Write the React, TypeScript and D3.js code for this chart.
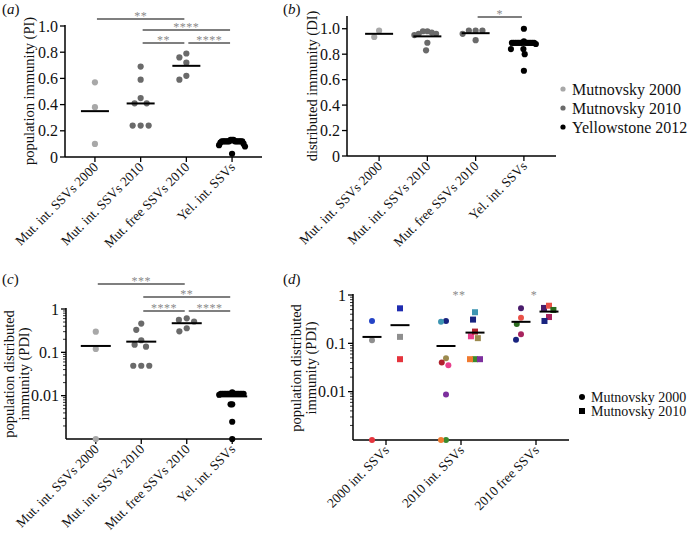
import React from "react";
import * as d3 from "d3";

const W = 692;
const H = 533;
const FONT = '"Liberation Serif", "Times New Roman", Times, serif';

// ---------- categories ----------
const catsABC = ["Mut. int. SSVs 2000", "Mut. int. SSVs 2010", "Mut. free SSVs 2010", "Yel. int. SSVs"];
const catsD = ["2000 int. SSVs", "2010 int. SSVs", "2010 free SSVs"];

// ---------- (a) population immunity ----------
const piMut2000 = [0.57, 0.38, 0.1];
const piMutInt2010 = [0.69, 0.59, 0.41, 0.41, 0.45, 0.24, 0.24, 0.24];
const piMutFree2010 = [0.79, 0.76, 0.72, 0.62, 0.59];
const piYel = [0.12, 0.12, 0.12, 0.12, 0.12, 0.12, 0.13, 0.13, 0.12, 0.12, 0.11, 0.12, 0.13, 0.12, 0.12, 0.12, 0.1, 0.09, 0.08, 0.025];

// ---------- (b) distributed immunity ----------
const diMut2000 = [0.935, 0.985];
const diMutInt2010 = [0.97, 0.96, 0.98, 0.95, 0.98, 0.96, 0.83, 0.89];
const diMutFree2010 = [0.985, 0.985, 0.985, 0.96, 0.91];
const diYel = [1.0, 0.89, 0.89, 0.89, 0.89, 0.89, 0.89, 0.89, 0.89, 0.89, 0.89, 0.89, 0.89, 0.89, 0.9, 0.88, 0.84, 0.84, 0.8, 0.67];

// ---------- (c) population distributed immunity ----------
const pdiMut2000 = [0.3, 0.12, 0.001];
const pdiMutInt2010 = [0.46, 0.33, 0.19, 0.15, 0.135, 0.049, 0.049, 0.049];
const pdiMutFree2010 = [0.56, 0.515, 0.61, 0.305, 0.36];
const pdiYel = [0.011, 0.011, 0.011, 0.011, 0.011, 0.012, 0.011, 0.011, 0.011, 0.011, 0.011, 0.011, 0.011, 0.011, 0.011, 0.0105, 0.0063, 0.0063, 0.0025, 0.001];

// ---------- (d) PDI by strain ----------
const d2000IntM2000 = [0.29, 0.116, 0.001];
const d2000IntM2000Strain = ["s01", "s02", "s03"];
const d2000IntM2010 = [0.53, 0.136, 0.047];
const d2000IntM2010Strain = ["s04", "s02", "s03"];
const d2010IntM2000 = [0.29, 0.28, 0.049, 0.035, 0.04, 0.0087, 0.001, 0.001];
const d2010IntM2000Strain = ["s05", "s06", "s07", "s08", "s09", "s10", "s11", "s12"];
const d2010IntM2010 = [0.31, 0.44, 0.14, 0.128, 0.175, 0.047, 0.047, 0.047];
const d2010IntM2010Strain = ["s05", "s06", "s08", "s07", "s09", "s11", "s12", "s10"];
const d2010FreeM2000 = [0.53, 0.34, 0.25, 0.155, 0.118];
const d2010FreeM2000Strain = ["s13", "s14", "s15", "s16", "s05"];
const d2010FreeM2010 = [0.54, 0.6, 0.49, 0.35, 0.29];
const d2010FreeM2010Strain = ["s13", "s14", "s15", "s16", "s05"];

// ---------- significance ----------
const sigA = [
  { from: 0, to: 2, label: "**" },
  { from: 1, to: 3, label: "****" },
  { from: 1, to: 2, label: "**" },
  { from: 2, to: 3, label: "****" },
];
const sigB = [{ from: 2, to: 3, label: "*" }];
const sigC = [
  { from: 0, to: 2, label: "***" },
  { from: 1, to: 3, label: "**" },
  { from: 1, to: 2, label: "****" },
  { from: 2, to: 3, label: "****" },
];
const sigD = [
  { cat: 1, label: "**" },
  { cat: 2, label: "*" },
];

const legendB = ["Mutnovsky 2000", "Mutnovsky 2010", "Yellowstone 2012"];
const legendD = ["Mutnovsky 2000", "Mutnovsky 2010"];

// ---------- styles ----------
const LIGHT = "#a8a8a8";
const DARK = "#6a6a6a";
const BLACK = "#000000";
const strainColor = d3
  .scaleOrdinal<string, string>()
  .domain(["s01", "s02", "s03", "s04", "s05", "s06", "s07", "s08", "s09", "s10", "s11", "s12", "s13", "s14", "s15", "s16"])
  .range([
    "#2443c6", "#8f8f8f", "#e5343d", "#1f2cb0", "#18237f", "#3d95b2", "#9c8a4e", "#e8408c",
    "#b0202c", "#7d2f9e", "#3a8a2c", "#f07a30", "#4a1c6c", "#ea5248", "#2b6b1f", "#a8245e",
  ]);

type Group = {
  cat: number;
  offset: number;
  values: number[];
  fills: string[];
  shape: "circle" | "square";
};

function swarm(ys: number[], d: number, maxHalf: number): number[] {
  const idx = ys.map((_, i) => i).sort((a, b) => ys[a] - ys[b]);
  const placed: { x: number; y: number }[] = [];
  const xs = new Array(ys.length).fill(0);
  for (const i of idx) {
    const y = ys[i];
    const ints = placed
      .filter((p) => Math.abs(p.y - y) < d)
      .map((p) => {
        const w = Math.sqrt(d * d - (p.y - y) * (p.y - y));
        return [p.x - w, p.x + w];
      });
    const cands = [0, ...ints.flat()].sort((a, b) => Math.abs(a) - Math.abs(b));
    let x = 0;
    for (const c of cands) {
      if (ints.every(([lo, hi]) => c <= lo + 1e-6 || c >= hi - 1e-6)) {
        x = c;
        break;
      }
    }
    xs[i] = x;
    placed.push({ x, y });
  }
  const m = Math.max(0, ...xs.map(Math.abs));
  if (m > maxHalf) return xs.map((x) => (x * maxHalf) / m);
  return xs;
}

type PanelProps = {
  letter: string;
  lx: number;
  ly: number;
  axX: number;
  axRight: number;
  yBase: number;
  yTop: number;
  y: (v: number) => number;
  ticks: { v: number; label: string }[];
  minor?: number[];
  cats: string[];
  pad: number;
  groups: Group[];
  r: number;
  d: number;
  maxHalf: number;
  meanHalf: number;
  sig?: { from: number; to: number; label: string }[];
  sigRows?: number[];
  sigText?: { cat: number; label: string }[];
  sigTextY?: number;
  titleLines: string[];
  titleX: number[];
  titleY: number;
  titleSize: number;
};

function Stars({ x, y, label }: { x: number; y: number; label: string }) {
  return (
    <text x={x} y={y} textAnchor="middle" fontFamily={FONT} fontSize={12} letterSpacing={0.5} fill="#8a8a8a">
      {label}
    </text>
  );
}

function Panel(p: PanelProps) {
  const xs = d3
    .scalePoint<number>()
    .domain(d3.range(p.cats.length))
    .range([p.axX, p.axRight])
    .padding(p.pad);
  return (
    <g>
      <text x={p.lx} y={p.ly} fontFamily={FONT} fontSize={15} fill="#111">
        <tspan>(</tspan>
        <tspan fontStyle="italic">{p.letter}</tspan>
        <tspan>)</tspan>
      </text>
      {p.titleLines.map((t, i) => (
        <text
          key={i}
          transform={`translate(${p.titleX[i]},${p.titleY}) rotate(-90)`}
          textAnchor="middle"
          fontFamily={FONT}
          fontSize={p.titleSize}
          fill="#111"
        >
          {t}
        </text>
      ))}
      <line x1={p.axX} x2={p.axX} y1={p.yTop} y2={p.yBase} stroke="#000" strokeWidth={1.5} />
      <line x1={p.axX} x2={p.axRight} y1={p.yBase} y2={p.yBase} stroke="#000" strokeWidth={1.5} />
      {p.ticks.map((t, i) => (
        <g key={i}>
          <line x1={p.axX - 5} x2={p.axX} y1={p.y(t.v)} y2={p.y(t.v)} stroke="#000" strokeWidth={1.3} />
          <text
            x={p.axX - 7}
            y={p.y(t.v)}
            dy="0.35em"
            textAnchor="end"
            fontFamily={FONT}
            fontSize={16}
            fill="#111"
          >
            {t.label}
          </text>
        </g>
      ))}
      {(p.minor || []).map((v, i) => (
        <line key={i} x1={p.axX - 3} x2={p.axX} y1={p.y(v)} y2={p.y(v)} stroke="#000" strokeWidth={0.8} />
      ))}
      {p.cats.map((c, i) => {
        const cx = xs(i) as number;
        return (
          <g key={i}>
            <line x1={cx} x2={cx} y1={p.yBase} y2={p.yBase + 5} stroke="#000" strokeWidth={1.3} />
            <text
              transform={`translate(${cx + 4},${p.yBase + 11}) rotate(-45)`}
              textAnchor="end"
              fontFamily={FONT}
              fontSize={13.5}
              fill="#111"
            >
              {c}
            </text>
          </g>
        );
      })}
      {p.groups.map((g, gi) => {
        const cx = (xs(g.cat) as number) + g.offset;
        const ys = g.values.map((v) => p.y(v));
        const dx = swarm(ys, p.d, p.maxHalf);
        const mean = d3.mean(g.values) as number;
        const my = p.y(mean);
        return (
          <g key={gi}>
            {g.values.map((v, i) =>
              g.shape === "circle" ? (
                <circle key={i} cx={cx + dx[i]} cy={ys[i]} r={p.r} fill={g.fills[i]} />
              ) : (
                <rect
                  key={i}
                  x={cx + dx[i] - p.r}
                  y={ys[i] - p.r}
                  width={p.r * 2}
                  height={p.r * 2}
                  fill={g.fills[i]}
                />
              )
            )}
            <line x1={cx - p.meanHalf} x2={cx + p.meanHalf} y1={my} y2={my} stroke="#000" strokeWidth={2} />
          </g>
        );
      })}
      {(p.sig || []).map((s, i) => {
        const x1 = (xs(s.from) as number) + 2;
        const x2 = (xs(s.to) as number) - 2;
        const yy = (p.sigRows || [])[i];
        return (
          <g key={i}>
            <line x1={x1} x2={x2} y1={yy} y2={yy} stroke="#555" strokeWidth={1.6} />
            <Stars x={(x1 + x2) / 2} y={yy + 1} label={s.label} />
          </g>
        );
      })}
      {(p.sigText || []).map((s, i) => (
        <Stars key={i} x={(xs(s.cat) as number) - 2} y={p.sigTextY as number} label={s.label} />
      ))}
    </g>
  );
}

function fill(n: number, c: string) {
  return new Array(n).fill(c);
}

export default function App() {
  const yA = d3.scaleLinear().domain([0, 1]).range([157, 26]);
  const yB = d3.scaleLinear().domain([0, 1.1]).range([156, 16]);
  const yC = d3.scaleLog().domain([0.001, 1]).range([439, 309]).clamp(true);
  const yD = d3.scaleLog().domain([0.001, 1]).range([440, 295]).clamp(true);

  const linTicks = (max: number) =>
    d3.range(0, max + 1e-9, 0.2).map((v) => ({ v, label: v === 0 ? "0" : d3.format(".1f")(v) }));
  const logTicks = [
    { v: 1, label: "1" },
    { v: 0.1, label: "0.1" },
    { v: 0.01, label: "0.01" },
  ];
  const minor: number[] = [];
  [0.001, 0.01, 0.1].forEach((b) => d3.range(2, 10).forEach((k) => minor.push(b * k)));

  const abcGroups = (a: number[], b: number[], c: number[], dd: number[]): Group[] => [
    { cat: 0, offset: 0, values: a, fills: fill(a.length, LIGHT), shape: "circle" },
    { cat: 1, offset: 0, values: b, fills: fill(b.length, DARK), shape: "circle" },
    { cat: 2, offset: 0, values: c, fills: fill(c.length, DARK), shape: "circle" },
    { cat: 3, offset: 0, values: dd, fills: fill(dd.length, BLACK), shape: "circle" },
  ];

  const dGroups: Group[] = [
    { cat: 0, offset: -14, values: d2000IntM2000, fills: d2000IntM2000Strain.map(strainColor), shape: "circle" },
    { cat: 0, offset: 14, values: d2000IntM2010, fills: d2000IntM2010Strain.map(strainColor), shape: "square" },
    { cat: 1, offset: -15, values: d2010IntM2000, fills: d2010IntM2000Strain.map(strainColor), shape: "circle" },
    { cat: 1, offset: 14, values: d2010IntM2010, fills: d2010IntM2010Strain.map(strainColor), shape: "square" },
    { cat: 2, offset: -15, values: d2010FreeM2000, fills: d2010FreeM2000Strain.map(strainColor), shape: "circle" },
    { cat: 2, offset: 13, values: d2010FreeM2010, fills: d2010FreeM2010Strain.map(strainColor), shape: "square" },
  ];

  return (
    <svg
      width={W}
      height={H}
      viewBox={`0 0 ${W} ${H}`}
      style={{ position: "absolute", left: 0, top: 0, background: "#fff" }}
    >
      <rect width={W} height={H} fill="#fff" />
      <Panel
        letter="a"
        lx={2}
        ly={14}
        axX={65}
        axRight={262}
        yBase={157}
        yTop={25}
        y={yA}
        ticks={linTicks(1)}
        cats={catsABC}
        pad={0.655}
        groups={abcGroups(piMut2000, piMutInt2010, piMutFree2010, piYel)}
        r={3.1}
        d={8}
        maxHalf={13}
        meanHalf={14}
        sig={sigA}
        sigRows={[19, 30, 43, 43]}
        titleLines={["population immunity (PI)"]}
        titleX={[34]}
        titleY={91}
        titleSize={14.5}
      />
      <Panel
        letter="b"
        lx={283}
        ly={14}
        axX={347}
        axRight={556}
        yBase={156}
        yTop={16}
        y={yB}
        ticks={linTicks(1)}
        cats={catsABC}
        pad={0.665}
        groups={abcGroups(diMut2000, diMutInt2010, diMutFree2010, diYel)}
        r={3.1}
        d={8}
        maxHalf={13}
        meanHalf={14}
        sig={sigB}
        sigRows={[17]}
        titleLines={["distributed immunity (DI)"]}
        titleX={[317]}
        titleY={86}
        titleSize={14.5}
      />
      <Panel
        letter="c"
        lx={2}
        ly={284}
        axX={66}
        axRight={262}
        yBase={439}
        yTop={308}
        y={yC}
        ticks={logTicks}
        minor={minor}
        cats={catsABC}
        pad={0.655}
        groups={abcGroups(pdiMut2000, pdiMutInt2010, pdiMutFree2010, pdiYel)}
        r={3.1}
        d={8}
        maxHalf={13}
        meanHalf={15}
        sig={sigC}
        sigRows={[284, 297, 311, 311]}
        titleLines={["population distributed", "immunity (PDI)"]}
        titleX={[14, 29]}
        titleY={374}
        titleSize={14.5}
      />
      <Panel
        letter="d"
        lx={283}
        ly={284}
        axX={353}
        axRight={569}
        yBase={440}
        yTop={294}
        y={yD}
        ticks={logTicks}
        minor={minor}
        cats={catsD}
        pad={0.44}
        groups={dGroups}
        r={3}
        d={8}
        maxHalf={5}
        meanHalf={9.5}
        sigText={sigD}
        sigTextY={299}
        titleLines={["population distributed", "immunity (PDI)"]}
        titleX={[301, 316]}
        titleY={368}
        titleSize={14.5}
      />
      {legendB.map((t, i) => (
        <g key={i}>
          <circle cx={563} cy={89 + i * 19} r={2.6} fill={[LIGHT, DARK, BLACK][i]} />
          <text x={572} y={89 + i * 19} dy="0.35em" fontFamily={FONT} fontSize={16} fill="#111">
            {t}
          </text>
        </g>
      ))}
      {legendD.map((t, i) => (
        <g key={i}>
          {i === 0 ? (
            <circle cx={582} cy={397} r={3} fill="#000" />
          ) : (
            <rect x={579} y={408} width={6} height={6} fill="#000" />
          )}
          <text x={591} y={397 + i * 14} dy="0.35em" fontFamily={FONT} fontSize={14} fill="#111">
            {t}
          </text>
        </g>
      ))}
    </svg>
  );
}
